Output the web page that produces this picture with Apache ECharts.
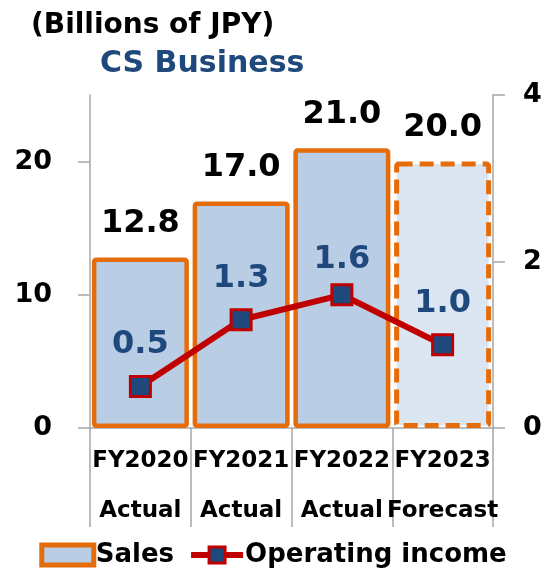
<!DOCTYPE html>
<html>
<head>
<meta charset="utf-8">
<script src="https://cdn.jsdelivr.net/npm/echarts@6/dist/echarts.min.js"></script>
<style>
html,body{margin:0;padding:0;background:#fff;}
#c{width:546px;height:577px;}
</style>
</head>
<body>
<div id="c"></div>
<script>
var categories = ['FY2020', 'FY2021', 'FY2022', 'FY2023'];
var periodLabels = ['Actual', 'Actual', 'Actual', 'Forecast'];
var sales = [12.8, 17.0, 21.0, 20.0];
var operatingIncome = [0.5, 1.3, 1.6, 1.0];
var leftTicks = [0, 10, 20];
var rightTicks = [0, 2, 4];
var forecastIndex = 3;

var FONT = 'DejaVu Sans';
var ORANGE = '#e46c0a';
var BLUE_FILL = '#b9cde5';
var FORECAST_FILL = '#dce6f2';
var NAVY = '#1f497d';
var RED = '#c00000';
var GREY = '#a6a6a6';

var chart = echarts.init(document.getElementById('c'), null, {renderer: 'canvas'});

var salesData = sales.map(function (v, i) {
  if (i === forecastIndex) {
    return {
      value: v,
      itemStyle: {
        color: FORECAST_FILL,
        borderColor: ORANGE,
        borderWidth: 5,
        borderType: [14, 7]
      }
    };
  }
  return v;
});

var incomeData = operatingIncome.map(function (v, i) {
  if (i === 2) {
    return {value: v, label: {distance: 8}};
  }
  return v;
});

var option = {
  animation: false,
  backgroundColor: '#fff',
  title: [
    {
      text: '(Billions of JPY)',
      left: 26, top: 7,
      textStyle: {fontFamily: FONT, fontWeight: 'bold', fontSize: 28, color: '#000'}
    },
    {
      text: 'CS Business',
      left: 95, top: 44,
      textStyle: {fontFamily: FONT, fontWeight: 'bold', fontSize: 30, color: NAVY}
    }
  ],
  legend: {
    bottom: 4,
    left: 'center',
    itemWidth: 52,
    itemHeight: 20,
    itemGap: 14,
    textStyle: {fontFamily: FONT, fontWeight: 'bold', fontSize: 26, color: '#000', padding: [0, 0, 0, -3]},
    data: [
      {name: 'Sales', icon: 'rect', itemStyle: {color: BLUE_FILL, borderColor: ORANGE, borderWidth: 5}},
      {name: 'Operating income', lineStyle: {color: RED, width: 6}, itemStyle: {color: NAVY, borderColor: RED, borderWidth: 3}}
    ]
  },
  grid: {left: 90, right: 53, top: 95, bottom: 149},
  xAxis: {
    type: 'category',
    data: categories,
    axisLine: {lineStyle: {color: GREY, width: 1.5}},
    axisTick: {show: true, length: 99, lineStyle: {color: GREY, width: 1.5}},
    axisLabel: {
      interval: 0,
      margin: 8,
      fontFamily: FONT, fontWeight: 'bold', fontSize: 23, color: '#000',
      lineHeight: 50,
      formatter: function (v, i) { return v + '\n' + periodLabels[i]; }
    }
  },
  yAxis: [
    {
      type: 'value', min: 0, max: 25,
      axisLine: {show: true, lineStyle: {color: GREY, width: 1.5}},
      axisTick: {show: true, length: 12, customValues: leftTicks, lineStyle: {color: GREY, width: 1.5}},
      axisLabel: {customValues: leftTicks, margin: 38, fontFamily: FONT, fontWeight: 'bold', fontSize: 27, color: '#000'},
      splitLine: {show: false}
    },
    {
      type: 'value', min: 0, max: 4, interval: 2,
      axisLine: {show: true, lineStyle: {color: GREY, width: 1.5}},
      axisTick: {show: true, length: 12, lineStyle: {color: GREY, width: 1.5}},
      axisLabel: {margin: 30, fontFamily: FONT, fontWeight: 'bold', fontSize: 27, color: '#000'},
      splitLine: {show: false}
    }
  ],
  series: [
    {
      name: 'Sales',
      type: 'bar',
      yAxisIndex: 0,
      data: salesData,
      barWidth: 97,
      itemStyle: {color: BLUE_FILL, borderColor: ORANGE, borderWidth: 4.5, borderRadius: 2},
      label: {
        show: true, position: 'top', distance: 18,
        fontFamily: FONT, fontWeight: 'bold', fontSize: 32, color: '#000',
        formatter: function (p) { return p.value.toFixed(1); }
      },
      z: 2
    },
    {
      name: 'Operating income',
      type: 'line',
      yAxisIndex: 1,
      data: incomeData,
      symbol: 'rect',
      symbolSize: 20,
      lineStyle: {color: RED, width: 6},
      itemStyle: {color: NAVY, borderColor: RED, borderWidth: 3},
      label: {
        show: true, position: 'top', distance: 14,
        fontFamily: FONT, fontWeight: 'bold', fontSize: 32, color: NAVY,
        formatter: function (p) { return p.value.toFixed(1); }
      },
      z: 5
    }
  ]
};
chart.setOption(option);
</script>
</body>
</html>
